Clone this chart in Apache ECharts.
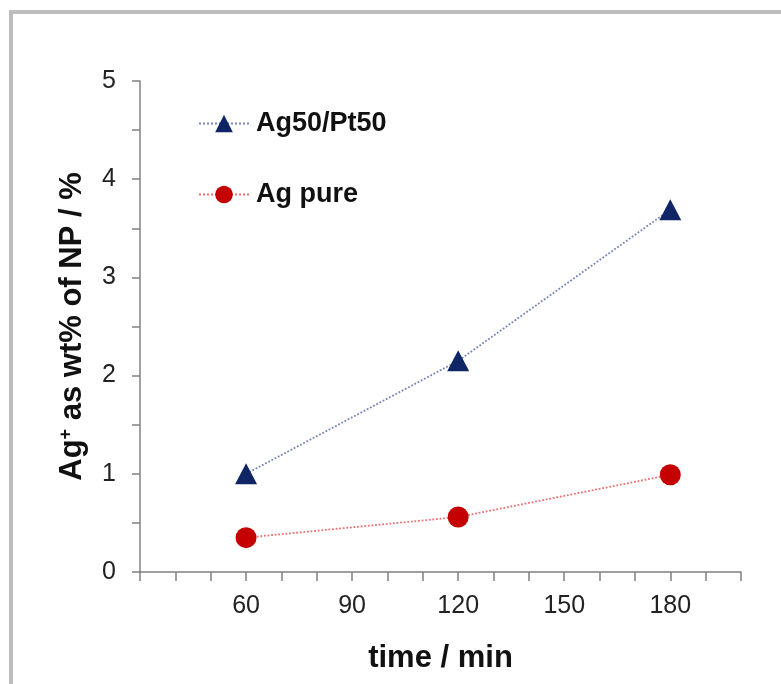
<!DOCTYPE html>
<html>
<head>
<meta charset="utf-8">
<script src="https://cdn.jsdelivr.net/npm/echarts@6/dist/echarts.min.js"></script>
<style>
html,body{margin:0;padding:0;background:#fff;}
#chart{width:781px;height:684px;}
</style>
</head>
<body>
<div id="chart"></div>
<script>
// data
var times = [60, 120, 180];
var agPt = [1.0, 2.15, 3.69];      // Ag50/Pt50
var agPure = [0.35, 0.56, 0.99];   // Ag pure
var xTickLabels = [60, 90, 120, 150, 180];
var yTickLabels = [0, 1, 2, 3, 4, 5];

function pairs(xs, ys) {
    var out = [];
    for (var i = 0; i < xs.length; i++) out.push([xs[i], ys[i]]);
    return out;
}

var font = 'Liberation Sans, Arial, sans-serif';
var option = {
    backgroundColor: '#fff',
    animation: false,
    graphic: [{
        type: 'rect',
        shape: {x: 11, y: 12, width: 800, height: 700},
        style: {fill: 'none', stroke: '#bdbdbd', lineWidth: 4},
        silent: true
    }],
    grid: {left: 140, right: 40, top: 81, bottom: 112},
    legend: {
        orient: 'vertical',
        left: 193,
        top: 105,
        itemWidth: 50,
        itemHeight: 22,
        itemGap: 44,
        textStyle: {fontFamily: font, fontSize: 27, lineHeight: 27, fontWeight: 'bold', color: '#111', padding: [0, 0, 0, 2]},
        data: ['Ag50/Pt50', 'Ag pure']
    },
    xAxis: {
        type: 'value',
        min: 30, max: 200, interval: 10,
        name: 'time / min',
        nameLocation: 'middle',
        nameGap: 71,
        nameTextStyle: {fontFamily: font, fontSize: 31, fontWeight: 'bold', color: '#111'},
        axisLine: {lineStyle: {color: '#808080', width: 1.5}},
        axisTick: {length: 9, lineStyle: {color: '#808080', width: 1.5}},
        axisLabel: {
            fontFamily: font, fontSize: 25, color: '#222', margin: 22,
            formatter: function (v) { return xTickLabels.indexOf(v) >= 0 ? String(v) : ''; }
        },
        splitLine: {show: false}
    },
    yAxis: {
        type: 'value',
        min: 0, max: 5, interval: 0.5,
        name: 'Ag{sup|+} as wt% of NP / %',
        nameLocation: 'middle',
        nameRotate: 90,
        nameGap: 52,
        nameTextStyle: {
            fontFamily: font, fontSize: 31, fontWeight: 'bold', color: '#111',
            rich: {sup: {fontFamily: font, fontSize: 18, fontWeight: 'bold', color: '#111', verticalAlign: 'top', padding: [0, 0, 12, 0]}}
        },
        axisLine: {show: true, lineStyle: {color: '#808080', width: 1.5}},
        axisTick: {show: true, length: 8, lineStyle: {color: '#808080', width: 1.5}},
        axisLabel: {
            fontFamily: font, fontSize: 25, color: '#222', margin: 24,
            formatter: function (v) { return yTickLabels.indexOf(v) >= 0 ? String(v) : ''; }
        },
        splitLine: {show: false}
    },
    series: [
        {
            name: 'Ag50/Pt50',
            type: 'line',
            data: pairs(times, agPt),
            symbol: 'triangle',
            symbolSize: [22, 21],
            itemStyle: {color: '#0f2566'},
            lineStyle: {color: '#7584b8', width: 1.8, type: 'dotted'}
        },
        {
            name: 'Ag pure',
            type: 'line',
            data: pairs(times, agPure),
            symbol: 'circle',
            symbolSize: 21,
            itemStyle: {color: '#c40000'},
            lineStyle: {color: '#e87070', width: 1.8, type: 'dotted'}
        }
    ]
};
var myChart = echarts.init(document.getElementById('chart'));
option && myChart.setOption(option);
</script>
</body>
</html>
